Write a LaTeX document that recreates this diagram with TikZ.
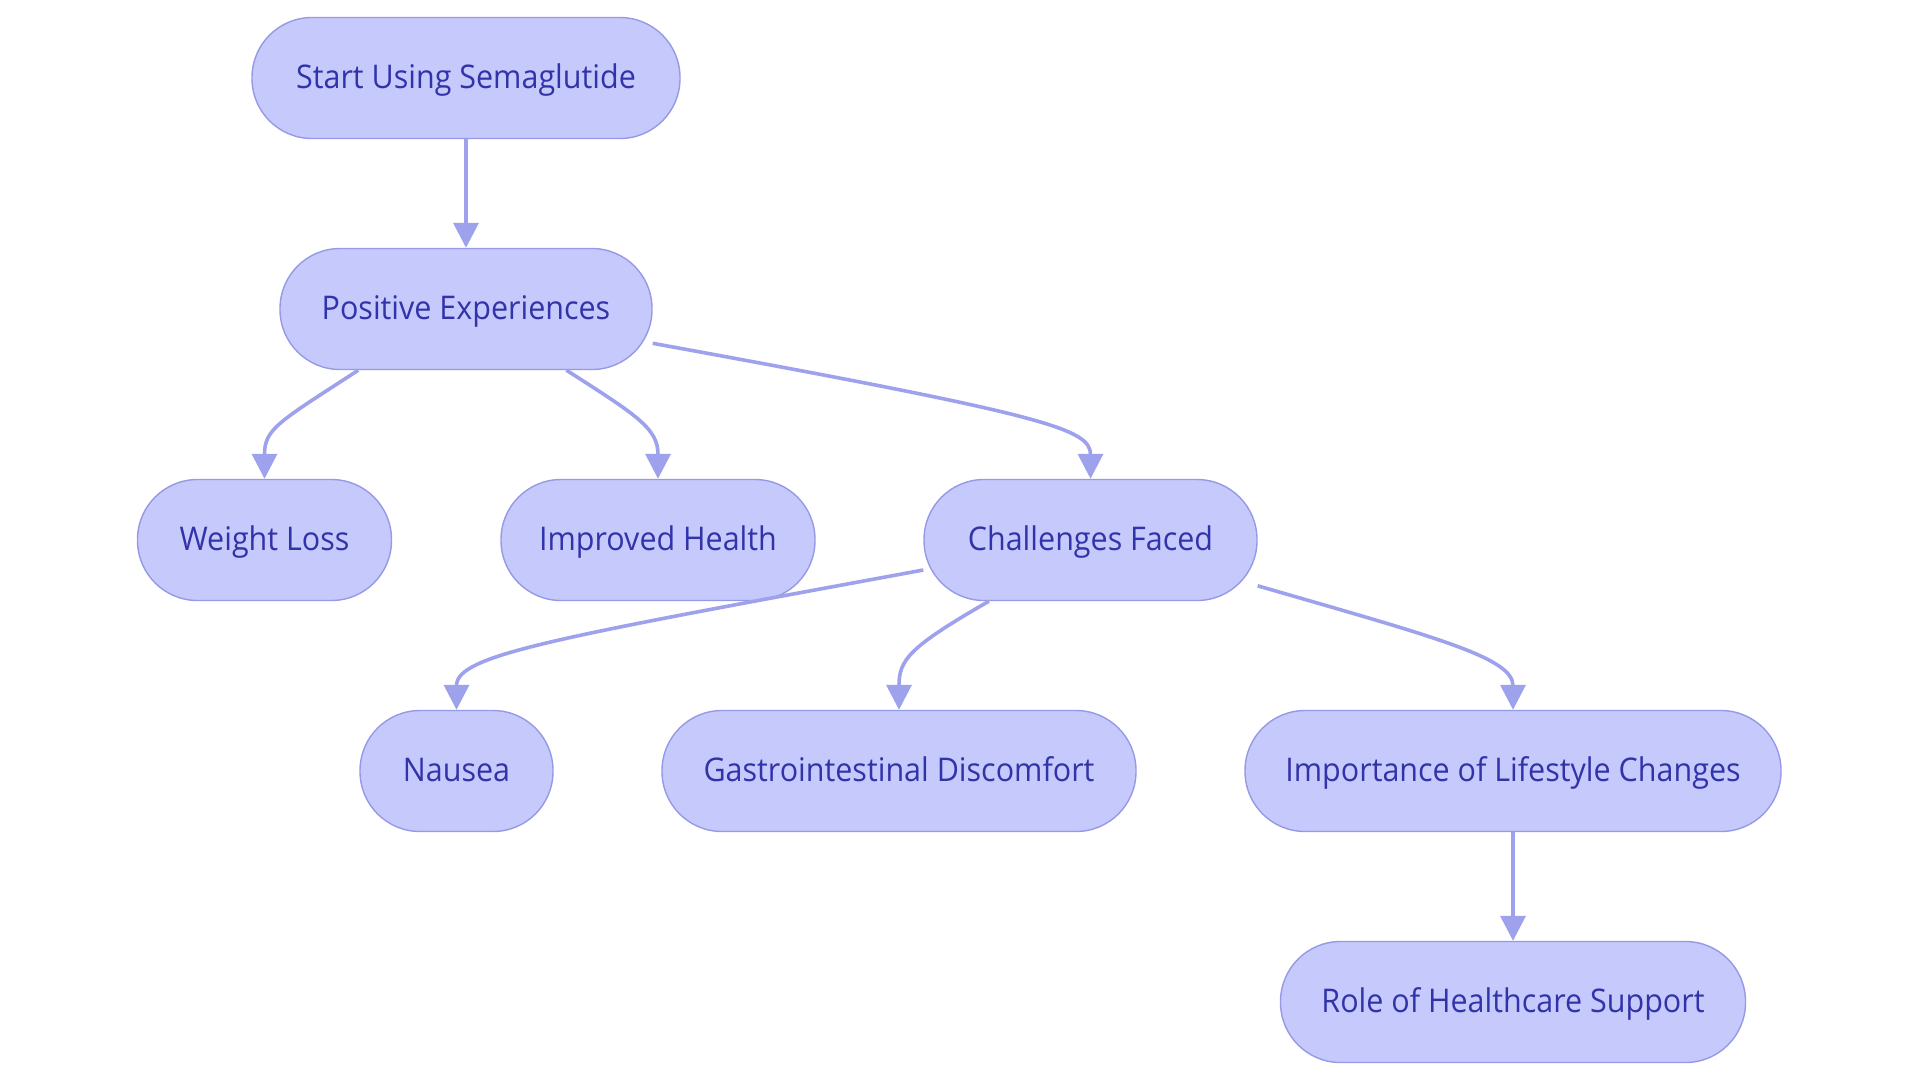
\documentclass[tikz,border=0pt]{standalone}
\usepackage{fontspec}
\setmainfont{Open Sans}[FakeStretch=0.935]
\usetikzlibrary{arrows.meta,calc}

\definecolor{boxfill}{RGB}{198,201,252}
\definecolor{boxline}{RGB}{150,153,228}
\definecolor{boxtext}{RGB}{49,51,168}
\definecolor{linkcol}{RGB}{158,161,236}

\begin{document}
\begin{tikzpicture}[x=0.5pt,y=-0.5pt,
  pill/.style={draw=boxline, fill=boxfill, line width=0.7pt, rounded corners=30pt,
    minimum height=60.5pt, inner sep=0pt, text height=12pt, text depth=2pt,
    text=boxtext, font=\fontsize{16.3}{19}\selectfont},
  link/.style={draw=linkcol, line width=1.8pt, -{Triangle[length=12.5pt,width=12.5pt]}}]
\useasboundingbox (0,0) rectangle (1920,1083);

%Shape: Rounded Rect
\node[pill, minimum width=214pt] (start) at (466,78) {Start Using Semaglutide};
%Shape: Rounded Rect
\node[pill, minimum width=186pt] (pos) at (466,309) {Positive Experiences};
%Shape: Rounded Rect
\node[pill, minimum width=127pt] (wl) at (264.5,540) {Weight Loss};
%Shape: Rounded Rect
\node[pill, minimum width=157pt] (ih) at (658,540) {Improved Health};
%Shape: Rounded Rect
\node[pill, minimum width=166.5pt] (cf) at (1090.5,540) {Challenges Faced};
%Shape: Rounded Rect
\node[pill, minimum width=96.5pt] (nau) at (456.5,771) {Nausea};
%Shape: Rounded Rect
\node[pill, minimum width=237pt] (gi) at (899,771) {Gastrointestinal Discomfort};
%Shape: Rounded Rect
\node[pill, minimum width=268pt] (imp) at (1513,771) {Importance of Lifestyle Changes};
%Shape: Rounded Rect
\node[pill, minimum width=232.5pt] (role) at (1513,1002) {Role of Healthcare Support};

%Straight Lines
\draw[link] (start.south) -- (pos.north);
\draw[link] (imp.south) -- (role.north);
%Curve Lines
\draw[link] ($(pos.south)+(-107.7,0)$) .. controls +(-80,52) and +(0,-50) .. (wl.north);
\draw[link] ($(pos.south)+(100.4,0)$) .. controls +(72,46) and +(0,-50) .. (ih.north);
\draw[link] ($(pos.east)+(0,34.3)$) .. controls +(395,72) and +(0,-50) .. (cf.north);
\draw[link] ($(cf.west)+(0,30)$) .. controls +(-369,68) and +(0,-55) .. (nau.north);
\draw[link] ($(cf.south)+(-101.6,0)$) .. controls +(-80,46) and +(0,-50) .. (gi.north);
\draw[link] ($(cf.east)+(0,45.8)$) .. controls +(180,52) and +(0,-52) .. (imp.north);

\end{tikzpicture}
\end{document}
